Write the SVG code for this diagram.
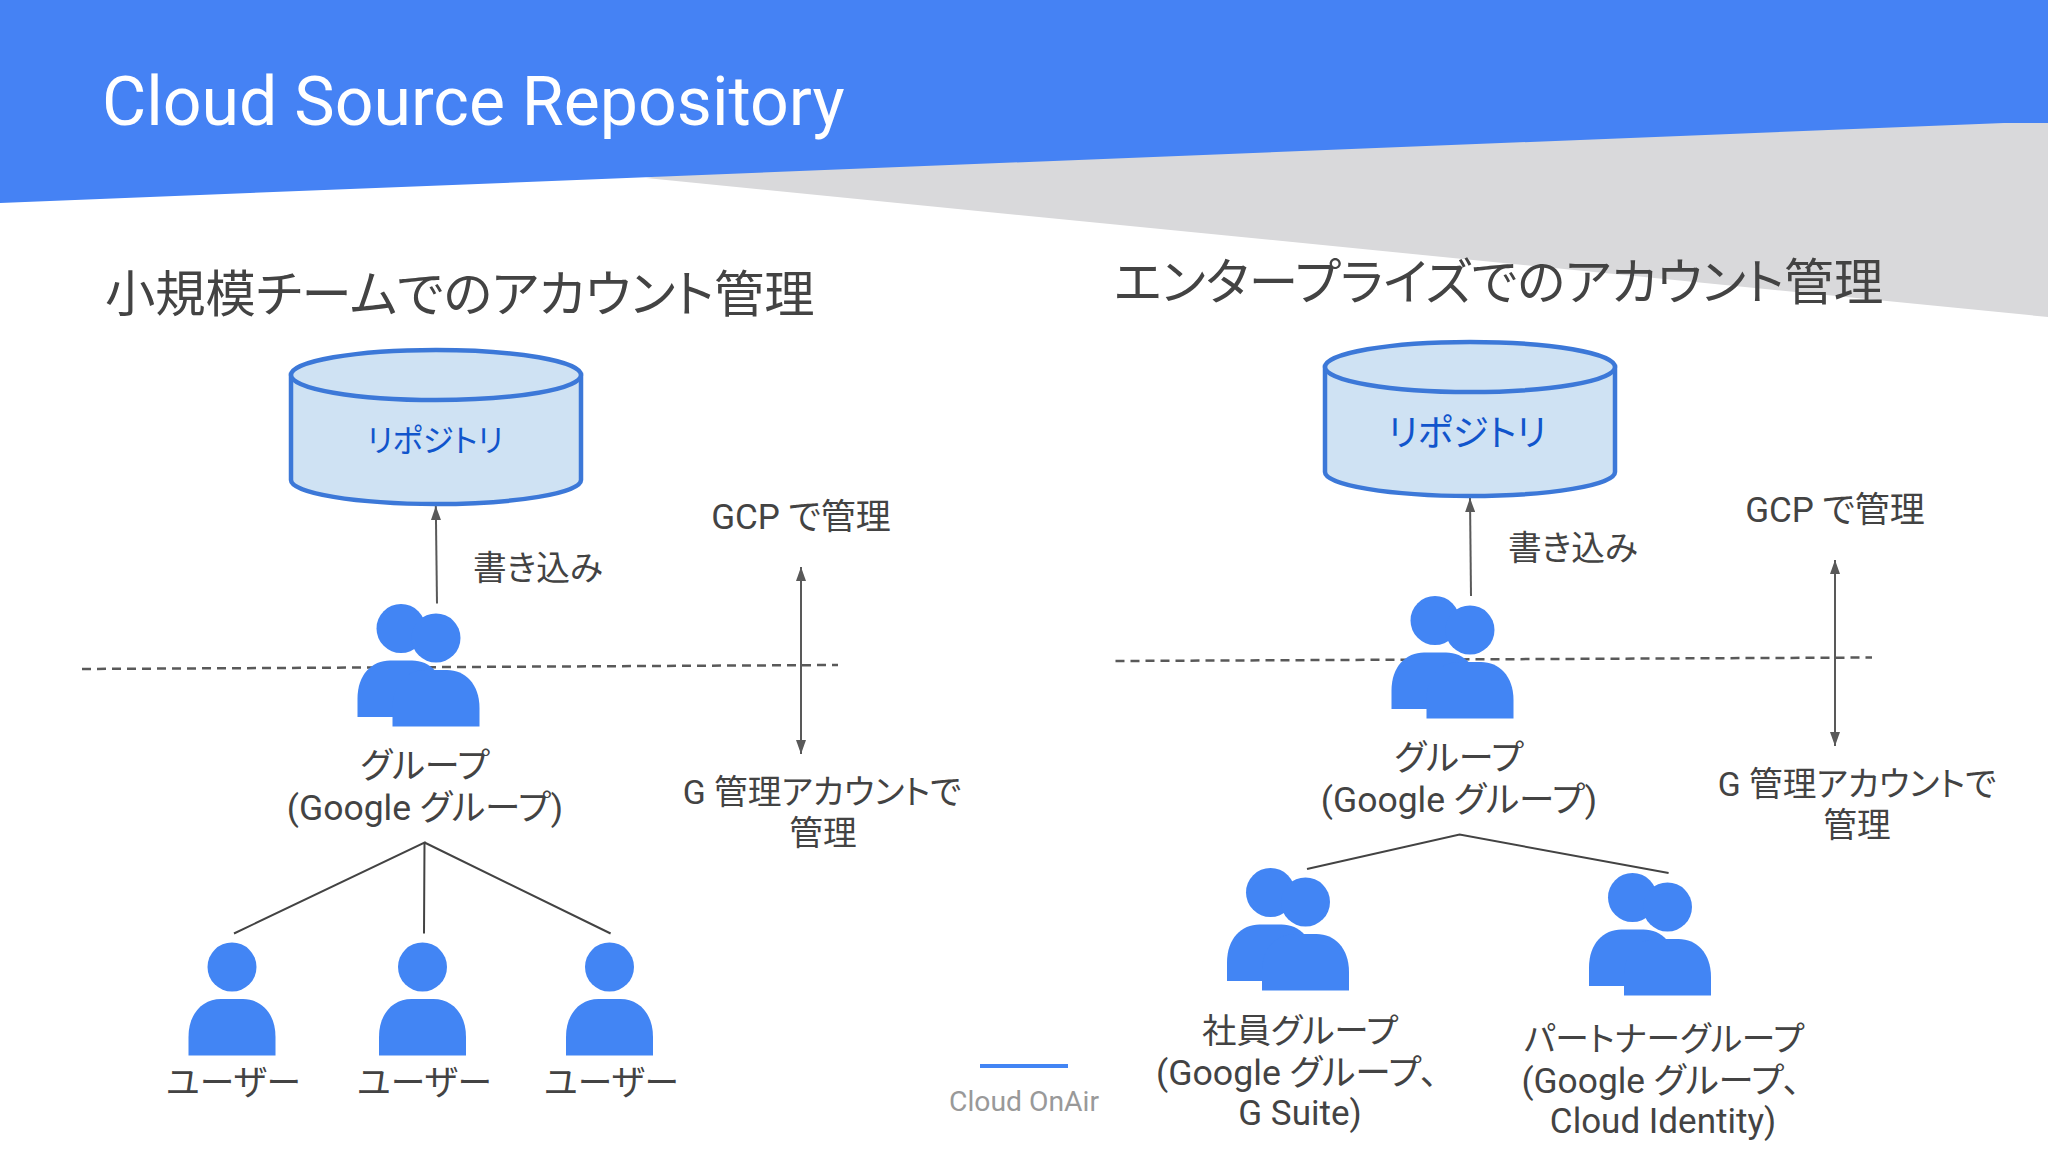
<svg xmlns="http://www.w3.org/2000/svg" width="2048" height="1152" viewBox="0 0 2048 1152">
<style>
text{font-family:Roboto,"Noto Sans CJK JP",sans-serif;fill:#434343;font-size:35px;text-anchor:middle;font-weight:400;font-feature-settings:"palt"}
.h{font-size:50.300px;text-anchor:start}
.t{font-size:68px;fill:#fff;text-anchor:start}
.r{fill:#1155cc}
.s{font-size:33.700px}
.line{stroke:#595959;stroke-width:2;fill:none}
.dash{stroke:#595959;stroke-width:2.500;fill:none;stroke-dasharray:9 6}
.tree{stroke:#434343;stroke-width:2;fill:none}
.cyl{fill:#cfe2f3;stroke:#3c78d8;stroke-width:4.500}
.p{fill:#4285f4}
</style>
<defs>
<g id="person"><ellipse cx="0" cy="0" rx="24.500" ry="24.500"/><path d="M-43.500 88.500V70C-43.500 46-29 32-11 32H11C29 32 43.500 46 43.500 70V88.500Z"/></g>
<g id="persons"><use href="#person" x="-35" y="-9.500"/><use href="#person"/></g>
<marker id="ah" markerWidth="14" markerHeight="10" refX="14" refY="5" orient="auto" markerUnits="userSpaceOnUse" viewBox="0 0 14 10"><path d="M0 0L14 5L0 10Z" fill="#595959"/></marker>
<marker id="as" markerWidth="14" markerHeight="10" refX="0" refY="5" orient="auto" markerUnits="userSpaceOnUse" viewBox="0 0 14 10"><path d="M14 0L0 5L14 10Z" fill="#595959"/></marker>
</defs>
<rect width="2048" height="1152" fill="#fff"/>
<polygon points="646,178 2048,317 2048,120 1000,120" fill="#d9d9db"/>
<polygon points="0,0 2048,0 2048,123 2004,123 0,203" fill="#4582f4"/>
<text class="t" x="102" y="125">Cloud Source Repository</text>
<text class="h" x="105" y="312">小規模チームでのアカウント管理</text>
<text class="h" x="1114" y="300" style="font-size:49.600px">エンタープライズでのアカウント管理</text>

<g id="connectors">
<path class="line" marker-end="url(#ah)" d="M437 603.500L435.800 506"/>
<path class="line" marker-start="url(#as)" marker-end="url(#ah)" d="M801 567V754"/>
<path class="dash" d="M82 669L838 665"/>
<path class="tree" d="M234 933.500L424.500 842.500L424 933.500M424.500 842.500L610.600 933.500"/>
<path class="line" marker-end="url(#ah)" d="M1471 596L1470 498"/>
<path class="line" marker-start="url(#as)" marker-end="url(#ah)" d="M1835 560V746"/>
<path class="dash" d="M1115.500 661L1872 657.500"/>
<path class="tree" d="M1307 869L1459.600 834.600L1668.600 873"/>
</g>

<g id="repo-small"><path class="cyl" d="M291 375V480C291 493 356 504 436 504S581 493 581 480V375Z"/><ellipse class="cyl" cx="436" cy="375" rx="145" ry="25"/><text class="r" x="435" y="452" style="font-size:31.300px">リポジトリ</text></g>
<g id="repo-ent"><path class="cyl" d="M1325 367V472C1325 485 1390 496 1470 496S1615 485 1615 472V367Z"/><ellipse class="cyl" cx="1470" cy="367" rx="145" ry="25"/><text class="r" x="1467" y="446" style="font-size:36.400px">リポジトリ</text></g>

<g id="group-small" class="p"><use href="#persons" x="436" y="638"/><text x="425" y="778">グループ</text><text x="425" y="820" style="font-size:35.500px">(Google グループ)</text></g>
<g id="user-1" class="p"><use href="#person" x="232" y="967"/><text x="233.500" y="1095" style="font-size:34.700px">ユーザー</text></g>
<g id="user-2" class="p"><use href="#person" x="422.500" y="967"/><text x="424.500" y="1095" style="font-size:34.700px">ユーザー</text></g>
<g id="user-3" class="p"><use href="#person" x="609.500" y="967"/><text x="611.500" y="1095" style="font-size:34.700px">ユーザー</text></g>
<g id="group-ent" class="p"><use href="#persons" x="1470" y="630"/><text x="1459" y="770">グループ</text><text x="1459" y="812" style="font-size:35.500px">(Google グループ)</text></g>
<g id="group-employee" class="p"><use href="#persons" x="1305.500" y="902"/><text x="1300" y="1043" style="font-size:34.500px">社員グループ</text><text x="1297" y="1085" style="font-size:35.700px">(Google グループ、</text><text x="1300" y="1125">G Suite)</text></g>
<g id="group-partner" class="p"><use href="#persons" x="1667.500" y="907"/><text x="1664" y="1051" class="s">パートナーグループ</text><text x="1661" y="1093" style="font-size:35.300px">(Google グループ、</text><text x="1663" y="1133">Cloud Identity)</text></g>

<g id="labels">
<text x="473" y="580" class="s" style="text-anchor:start">書き込み</text>
<text x="801" y="529">GCP で管理</text>
<text x="822" y="804" class="s">G 管理アカウントで</text>
<text x="823" y="845" class="s">管理</text>
<text x="1508" y="560" class="s" style="text-anchor:start">書き込み</text>
<text x="1835" y="522">GCP で管理</text>
<text x="1857" y="796" class="s">G 管理アカウントで</text>
<text x="1857" y="837" class="s">管理</text>
</g>
<g id="brand"><rect x="980" y="1064" width="88" height="4" fill="#4285f4"/><text x="1024" y="1111" style="font-size:28.300px;fill:#999">Cloud OnAir</text></g>
</svg>
